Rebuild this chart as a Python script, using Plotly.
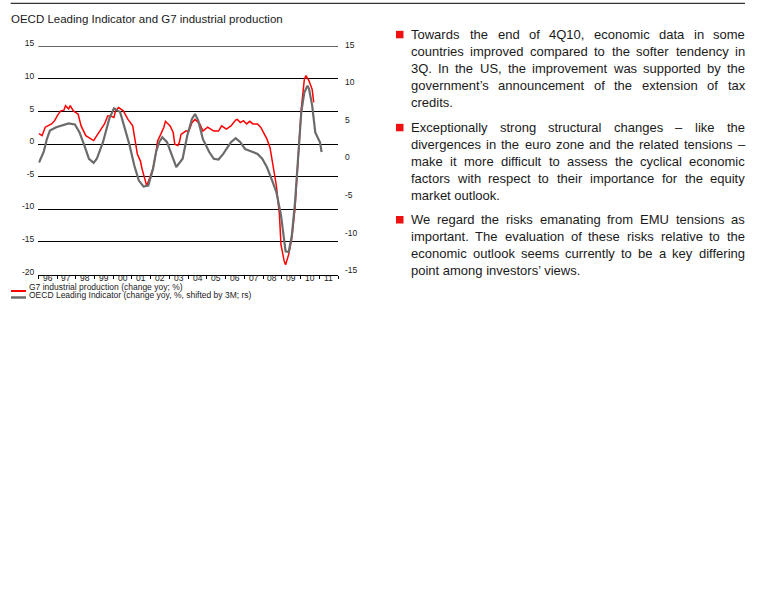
import plotly.graph_objects as go

# ---------------- data ----------------
ip_dates = ["1996-01","1996-03","1996-05","1996-07","1996-09","1996-11","1997-01","1997-03",
            "1997-05","1997-06","1997-08","1997-09","1997-11","1998-02","1998-04","1998-07",
            "1998-10","1998-12","1999-02","1999-05","1999-07","1999-09","1999-11","2000-01",
            "2000-02","2000-04","2000-07","2000-10","2001-01","2001-03","2001-04","2001-06",
            "2001-07","2001-10","2002-02","2002-04","2002-05","2002-07","2002-09","2002-10",
            "2003-01","2003-03","2003-04","2003-06","2003-07","2003-08","2003-11","2004-01",
            "2004-03","2004-05","2004-06","2004-08","2004-10","2005-01","2005-03","2005-05",
            "2005-08","2005-10","2006-01","2006-04","2006-07","2006-08","2006-10","2006-12",
            "2007-02","2007-04","2007-06","2007-09","2007-11","2008-01","2008-03","2008-05",
            "2008-07","2008-09","2008-11","2008-12","2009-02","2009-03","2009-05","2009-07",
            "2009-09","2009-11","2010-01","2010-03","2010-04","2010-06","2010-08","2010-09"]
ip_values = [1.6, 1.3, 2.6, 2.8, 3.1, 3.6, 4.5, 5.1,
             5.2, 5.9, 5.4, 5.9, 5.1, 4.6, 2.8, 1.3,
             0.8, 0.55, 1.3, 2.3, 3.1, 4.3, 4.3, 4.1,
             5.1, 5.6, 5.1, 3.8, 2.8, 0.0, -1.5, -2.6,
             -3.75, -6.4, -3.75, -1.2, 0.5, 1.5, 2.6, 3.5,
             2.8, 1.8, 0.0, -0.2, 0.3, 1.5, 2.0, 2.0,
             3.3, 3.8, 3.6, 3.1, 2.0, 2.6, 2.3, 2.0,
             2.0, 2.8, 2.3, 2.8, 3.7, 3.8, 3.3, 3.6,
             3.1, 3.5, 3.1, 3.1, 2.6, 1.8, 0.8, -0.5,
             -3.2, -6.3, -10.8, -15.4, -17.9, -18.5, -16.9, -14.4,
             -9.8, -2.2, 5.4, 9.9, 10.5, 9.7, 8.4, 6.4]

oecd_dates = ["1996-01","1996-04","1996-06","1996-08","1996-12","1997-04","1997-08","1997-12",
              "1998-03","1998-06","1998-09","1998-12","1999-02","1999-06","1999-10","2000-01",
              "2000-05","2000-08","2000-11","2001-02","2001-05","2001-08","2001-11","2002-02",
              "2002-04","2002-06","2002-08","2002-11","2003-02","2003-05","2003-09","2003-12",
              "2004-03","2004-05","2004-07","2004-10","2005-02","2005-05","2005-08","2005-11",
              "2006-04","2006-07","2006-10","2007-01","2007-06","2007-09","2007-12","2008-03",
              "2008-06","2008-09","2008-12","2009-02","2009-03","2009-05","2009-07","2009-09",
              "2009-11","2010-01","2010-03","2010-05","2010-06","2010-08","2010-10","2011-01",
              "2011-02"]
oecd_values = [-0.4, 1.0, 2.7, 3.85, 4.3, 4.6, 4.8, 4.65,
               3.6, 1.9, 0.1, -0.45, 0.1, 2.3, 5.4, 6.8,
               6.3, 4.1, 1.9, -0.8, -2.8, -3.6, -3.45, -1.25,
               1.0, 2.3, 2.96, 2.3, 0.5, -1.0, 0.1, 3.2,
               5.4, 6.05, 5.2, 2.7, 1.0, 0.1, 0.0, 0.75,
               2.3, 2.83, 2.3, 1.4, 1.0, 0.75, 0.1, -1.0,
               -2.6, -4.3, -7.4, -10.5, -12.2, -12.3, -10.1, -5.7,
               0.1, 6.3, 8.9, 9.8, 9.4, 7.2, 3.6, 2.3,
               1.0]

years = list(range(1996, 2012))
year_labels = ["96", "97", "98", "99", "00", "01", "02", "03",
               "04", "05", "06", "07", "08", "09", "10", "11"]
left_ticks = [-20, -15, -10, -5, 0, 5, 10, 15]
right_ticks = [-15, -10, -5, 0, 5, 10, 15]

title_text = "OECD Leading Indicator and G7 industrial production"
legend_labels = ["G7 industrial production (change yoy; %)",
                 "OECD Leading Indicator (change yoy, %, shifted by 3M; rs)"]

paragraphs = [
    ["Towards the end of 4Q10, economic data in some",
     "countries improved compared to the softer tendency in",
     "3Q. In the US, the improvement was supported by the",
     "government\u2019s announcement of the extension of tax",
     "credits."],
    ["Exceptionally strong structural changes \u2013 like the",
     "divergences in the euro zone and the related tensions \u2013",
     "make it more difficult to assess the cyclical economic",
     "factors with respect to their importance for the equity",
     "market outlook."],
    ["We regard the risks emanating from EMU tensions as",
     "important. The evaluation of these risks relative to the",
     "economic outlook seems currently to be a key differing",
     "point among investors\u2019 views."],
]

# ---------------- layout helpers ----------------
W, H = 768, 614
FONT = "Liberation Sans, Arial, sans-serif"
RED = "#ff0000"
GREY = "#6b6b6b"
TXT = "#1a1a1a"

def px(x):
    return x / W

def py(y):
    return 1 - y / H

# Arial / Liberation Sans advance widths (per 1000 em)
AW = {' ': 278, ',': 278, '.': 278, '-': 333, ';': 278, ':': 278, '%': 889, '(': 333, ')': 333,
      '\u2019': 222, "'": 191, '\u2013': 556,
      'a': 556, 'b': 556, 'c': 500, 'd': 556, 'e': 556, 'f': 278, 'g': 556, 'h': 556, 'i': 222,
      'j': 222, 'k': 500, 'l': 222, 'm': 833, 'n': 556, 'o': 556, 'p': 556, 'q': 556, 'r': 333,
      's': 500, 't': 278, 'u': 556, 'v': 500, 'w': 722, 'x': 500, 'y': 500, 'z': 500,
      'A': 667, 'B': 667, 'C': 722, 'D': 722, 'E': 667, 'F': 611, 'G': 778, 'H': 722, 'I': 278,
      'J': 500, 'K': 667, 'L': 556, 'M': 833, 'N': 722, 'O': 778, 'P': 667, 'Q': 778, 'R': 722,
      'S': 667, 'T': 611, 'U': 722, 'V': 667, 'W': 944, 'X': 667, 'Y': 667, 'Z': 611}
for d in "0123456789":
    AW[d] = 556

def text_width(s, fs):
    return sum(AW.get(c, 556) for c in s) * fs / 1000.0

mid = lambda ds: [d + "-15" for d in ds]

fig = go.Figure()

fig.add_trace(go.Scatter(x=mid(ip_dates), y=ip_values, mode="lines", yaxis="y",
                         line=dict(color=RED, width=1.5), showlegend=False,
                         name=legend_labels[0]))
fig.add_trace(go.Scatter(x=mid(oecd_dates), y=oecd_values, mode="lines", yaxis="y2",
                         line=dict(color=GREY, width=2.2), showlegend=False,
                         name=legend_labels[1]))

PL, PR, PT, PB = 38.3, 338.0, 46.3, 274.6

fig.update_layout(
    width=W, height=H,
    margin=dict(l=0, r=0, t=0, b=0, pad=0, autoexpand=False),
    paper_bgcolor="white", plot_bgcolor="white",
    font=dict(family=FONT, color=TXT, size=8),
    xaxis=dict(type="date", range=["1996-01-01", "2012-01-01"],
               domain=[px(PL), px(PR)], automargin=False,
               dtick="M12", tick0="1996-01-01",
               ticks="outside", ticklen=3, showticklabels=False,
               tickcolor="black", tickwidth=1,
               showline=True, linecolor="black", linewidth=1,
               showgrid=False, zeroline=False),
    yaxis=dict(range=[-20, 15], domain=[py(PB), py(PT)], automargin=False,
               tickvals=left_ticks, ticktext=[str(v) for v in left_ticks],
               showgrid=True, gridcolor="black", gridwidth=1,
               zeroline=False, showline=False, ticks="",
               ticklabelshift=-3, ticklabelstandoff=3,
               tickfont=dict(size=8.5, color=TXT, family=FONT)),
    yaxis2=dict(range=[-15.3, 15.05], overlaying="y", side="right",
                anchor="x", automargin=False,
                tickvals=right_ticks, ticktext=[str(v) for v in right_ticks],
                showgrid=False, zeroline=False, showline=False, ticks="",
                ticklabelshift=-2, ticklabelstandoff=6,
                tickfont=dict(size=8.5, color=TXT, family=FONT)),
)

shapes = []
annotations = []

# top gridline (plotly omits the grid line at the range edge)
shapes.append(dict(type="line", xref="paper", yref="y",
                   x0=px(PL), x1=px(PR), y0=15, y1=15,
                   line=dict(color="black", width=1)))

# x-axis year labels, centred on mid-year through the date axis
for yr, lab in zip(years, year_labels):
    annotations.append(dict(text=lab, xref="x", yref="paper",
                            x=f"{yr}-07-02", y=py(278.0), xanchor="center", yanchor="middle",
                            showarrow=False, borderpad=0, borderwidth=0,
                            font=dict(size=8.5, color=TXT, family=FONT)))

# top rule
shapes.append(dict(type="line", xref="paper", yref="paper",
                   x0=px(10.7), x1=px(745), y0=py(3.3), y1=py(3.3),
                   line=dict(color="black", width=1)))

# title
annotations.append(dict(text=title_text, xref="paper", yref="paper",
                        x=px(10.5), y=py(18.8), xanchor="left", yanchor="middle",
                        showarrow=False, borderpad=0, borderwidth=0,
                        font=dict(size=11.5, color=TXT, family=FONT)))

# legend (custom)
leg_line_y = [291.0, 297.5]
leg_text_y = [287.0, 294.6]
leg_cols = [RED, GREY]
leg_w = [2, 2.5]
for i in range(2):
    shapes.append(dict(type="line", xref="paper", yref="paper",
                       x0=px(11), x1=px(26), y0=py(leg_line_y[i]), y1=py(leg_line_y[i]),
                       line=dict(color=leg_cols[i], width=leg_w[i])))
    annotations.append(dict(text=legend_labels[i], xref="paper", yref="paper",
                            x=px(29), y=py(leg_text_y[i]), xanchor="left", yanchor="middle",
                            showarrow=False, borderpad=0, borderwidth=0,
                            font=dict(size=8.5, color=TXT, family=FONT)))

# justified bullet text
FS = 13
LEFT, RIGHT = 410.7, 745.0
para_start = [39.3, 132.3, 224.5]
LS = 17.0
for p, lines in enumerate(paragraphs):
    b0 = para_start[p]
    shapes.append(dict(type="rect", xref="paper", yref="paper",
                       x0=px(396), x1=px(403.5), y0=py(b0 - 1.0), y1=py(b0 - 8.5),
                       fillcolor="#ee1111", line=dict(width=0)))
    for li, line in enumerate(lines):
        base = b0 + li * LS
        yc = py(base - 0.3465 * FS)
        last = (li == len(lines) - 1)
        if last:
            annotations.append(dict(text=line, xref="paper", yref="paper",
                                    x=px(LEFT), y=yc, xanchor="left", yanchor="middle",
                                    showarrow=False, borderpad=0, borderwidth=0,
                                    font=dict(size=FS, color=TXT, family=FONT)))
            continue
        words = line.split(" ")
        widths = [text_width(w, FS) for w in words]
        gap = (RIGHT - LEFT - sum(widths)) / (len(words) - 1)
        xcur = LEFT
        for w, wd in zip(words, widths):
            annotations.append(dict(text=w, xref="paper", yref="paper",
                                    x=px(xcur), y=yc, xanchor="left", yanchor="middle",
                                    showarrow=False, borderpad=0, borderwidth=0,
                                    font=dict(size=FS, color=TXT, family=FONT)))
            xcur += wd + gap

fig.update_layout(shapes=shapes, annotations=annotations)

fig.write_html("out.html", config={"displayModeBar": False},
               post_script="document.body.style.margin='0';")
